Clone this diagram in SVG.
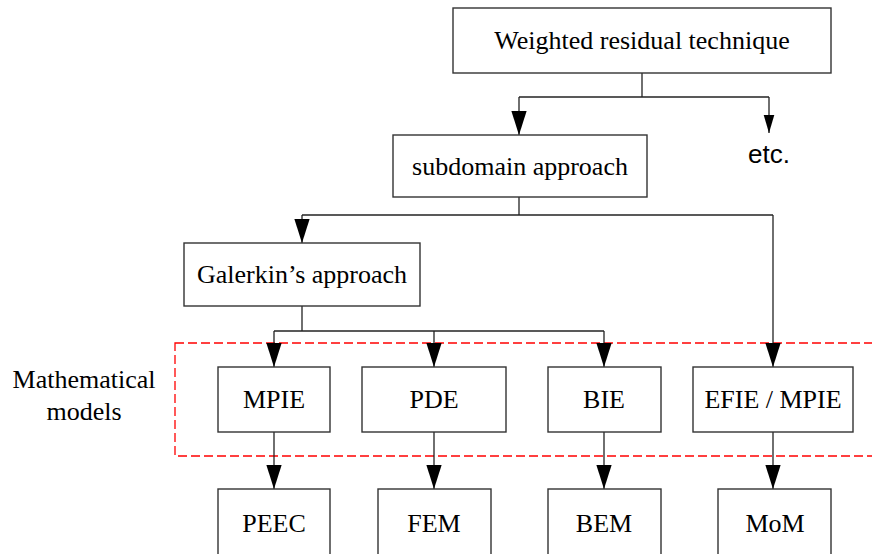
<svg xmlns="http://www.w3.org/2000/svg" width="872" height="554" viewBox="0 0 872 554">
<style>
.box{fill:#fff;stroke:#333;stroke-width:1.4}
.t{font-family:"Liberation Serif","Times New Roman",serif;font-size:26px;fill:#000;text-anchor:middle}
.s{font-family:"Liberation Sans",Arial,sans-serif;font-size:26px;fill:#000;text-anchor:middle}
.ln{fill:none;stroke:#222;stroke-width:1.3}
</style>
<defs>
<marker id="ah" markerUnits="userSpaceOnUse" markerWidth="24" markerHeight="16" refX="22" refY="7" orient="auto" viewBox="0 0 22 14">
<path d="M0,0 L22,7 L0,14 Z" fill="#000"/>
</marker>
<marker id="ahs" markerUnits="userSpaceOnUse" markerWidth="18" markerHeight="12" refX="17" refY="5" orient="auto" viewBox="0 0 17 10">
<path d="M0,0 L17,5 L0,10 Z" fill="#000"/>
</marker>
</defs>
<rect x="175" y="343" width="710" height="113" fill="none" stroke="#ff0000" stroke-width="1.3" stroke-dasharray="9,4"/>
<g id="connectors">
<path class="ln" d="M642,73 V97"/>
<path class="ln" d="M519,97 H769"/>
<path class="ln" d="M519,97 V135" marker-end="url(#ah)"/>
<path class="ln" d="M769,97 V133" marker-end="url(#ahs)"/>
<path class="ln" d="M519,197 V215"/>
<path class="ln" d="M302,215 H773"/>
<path class="ln" d="M302,215 V243" marker-end="url(#ah)"/>
<path class="ln" d="M773,215 V367" marker-end="url(#ah)"/>
<path class="ln" d="M302,306 V331"/>
<path class="ln" d="M274,331 H604"/>
<path class="ln" d="M274,331 V367" marker-end="url(#ah)"/>
<path class="ln" d="M434,331 V367" marker-end="url(#ah)"/>
<path class="ln" d="M604,331 V367" marker-end="url(#ah)"/>
<path class="ln" d="M274,432 V489" marker-end="url(#ah)"/>
<path class="ln" d="M434,432 V489" marker-end="url(#ah)"/>
<path class="ln" d="M604,432 V489" marker-end="url(#ah)"/>
<path class="ln" d="M773,432 V489" marker-end="url(#ah)"/>
</g>
<g id="weighted"><rect class="box" x="453" y="8" width="378" height="65"/><text class="t" x="642" y="49">Weighted residual technique</text></g>
<g id="etc"><text class="s" x="769" y="163">etc.</text></g>
<g id="subdomain"><rect class="box" x="393" y="135" width="254" height="62"/><text class="t" x="520" y="175">subdomain approach</text></g>
<g id="galerkin"><rect class="box" x="184" y="243" width="236" height="63"/><text class="t" x="302" y="283">Galerkin’s approach</text></g>
<g id="mathlabel"><text class="t" x="84" y="388">Mathematical</text><text class="t" x="84" y="420">models</text></g>
<g id="mpie"><rect class="box" x="218" y="367" width="112" height="65"/><text class="t" x="274" y="408">MPIE</text></g>
<g id="pde"><rect class="box" x="362" y="367" width="144" height="65"/><text class="t" x="434" y="408">PDE</text></g>
<g id="bie"><rect class="box" x="548" y="367" width="113" height="65"/><text class="t" x="604" y="408">BIE</text></g>
<g id="efie"><rect class="box" x="693" y="367" width="160" height="65"/><text class="t" x="773" y="408">EFIE / MPIE</text></g>
<g id="peec"><rect class="box" x="218" y="489" width="112" height="70"/><text class="t" x="274" y="532">PEEC</text></g>
<g id="fem"><rect class="box" x="378" y="489" width="113" height="70"/><text class="t" x="434" y="532">FEM</text></g>
<g id="bem"><rect class="box" x="548" y="489" width="113" height="70"/><text class="t" x="604" y="532">BEM</text></g>
<g id="mom"><rect class="box" x="718" y="489" width="113" height="70"/><text class="t" x="775" y="532">MoM</text></g>
</svg>
